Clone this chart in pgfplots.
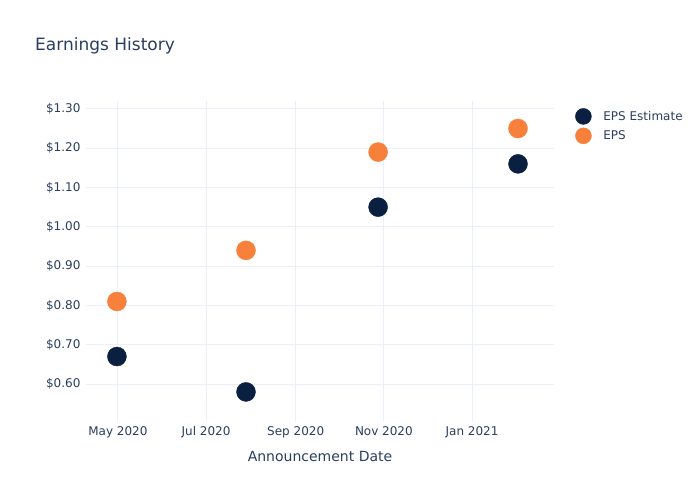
\documentclass[border=0pt]{standalone}
\usepackage{fontspec}
\setmainfont{DejaVu Sans}
\usepackage{pgfplots}
\pgfplotsset{compat=1.18}
\definecolor{txt}{HTML}{2A3F5F}
\definecolor{gridc}{HTML}{EBF0F8}
\definecolor{navy}{HTML}{0B1F41}
\definecolor{orng}{HTML}{F7803A}
\begin{document}
\begin{tikzpicture}
\fill[white] (0pt,0pt) rectangle (700pt,500pt);
\node[anchor=base west, text=txt, font=\fontsize{17}{20}\selectfont, inner sep=0pt] at (35pt,449pt) {Earnings History};
\begin{axis}[
    at={(86pt,79pt)}, anchor=south west,
    width=468pt, height=320pt, scale only axis,
    xmin=-22.1, xmax=301.7,
    ymin=0.506, ymax=1.320,
    axis line style={draw=none},
    major tick length=0pt,
    grid=major,
    grid style={gridc, line width=1pt},
    xtick={0,61,123,184,245},
    xticklabels={May 2020,Jul 2020,Sep 2020,Nov 2020,Jan 2021},
    ytick={0.6,0.7,0.8,0.9,1.0,1.1,1.2,1.3},
    yticklabels={\$0.60,\$0.70,\$0.80,\$0.90,\$1.00,\$1.10,\$1.20,\$1.30},
    tick label style={text=txt, font=\fontsize{12}{14}\selectfont},
    xticklabel style={yshift=-2pt},
    yticklabel style={xshift=-2pt},
    xlabel={Announcement Date},
    xlabel style={text=txt, font=\fontsize{14}{16}\selectfont, yshift=-6pt},
    legend style={draw=none, fill=none, at={(1,1)}, anchor=north west,
        xshift=21pt, yshift=-7pt, text=txt, font=\fontsize{12}{14}\selectfont,
        row sep=3pt, inner sep=0pt, nodes={inner xsep=4pt}},
    legend cell align=left,
    legend image code/.code={\fill (0,0) circle (8pt); \path[draw=none] (-8pt,0) -- (16pt,0);},
]
\addplot[only marks, mark=*, mark size=9.5pt, navy, mark options={draw=navy, fill=navy}]
    coordinates {(-0.7,0.67) (88.6,0.58) (180,1.05) (276.8,1.16)};
\addlegendentry{EPS Estimate}
\addplot[only marks, mark=*, mark size=9.5pt, orng, mark options={draw=orng, fill=orng}]
    coordinates {(-0.7,0.81) (88.6,0.94) (180,1.19) (276.8,1.25)};
\addlegendentry{EPS}
\end{axis}
\pgfresetboundingbox
\path (0pt,0pt) rectangle (700pt,500pt);
\end{tikzpicture}
\end{document}
